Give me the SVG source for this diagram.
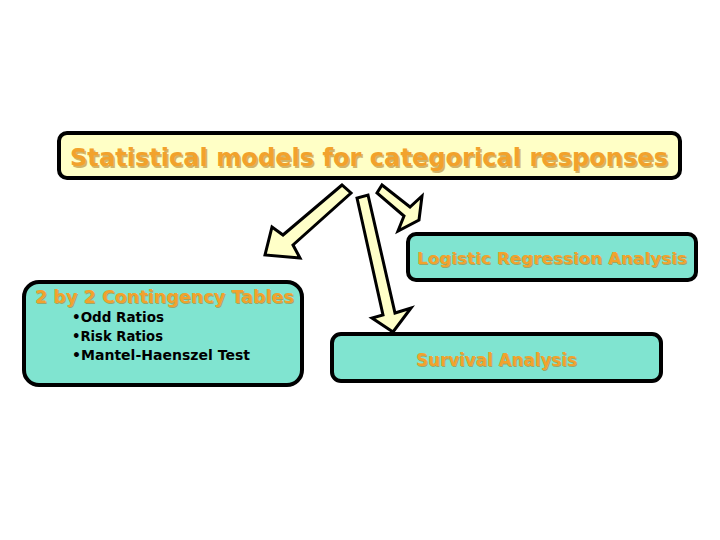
<svg xmlns="http://www.w3.org/2000/svg" width="720" height="540" viewBox="0 0 720 540">
<defs>
<style>
.box{stroke:#000;stroke-width:4}
.yel{fill:#ffffc6}
.tq{fill:#80e4d0}
.ttl{font-family:"DejaVu Sans","Liberation Sans",sans-serif;font-weight:bold;fill:#f2a22c}
.sh{fill:#b07818;opacity:0.55}
.bul{font-family:"DejaVu Sans","Liberation Sans",sans-serif;font-weight:bold;fill:#000;font-size:13.5px}
.arr{fill:#ffffc8;stroke:#000;stroke-width:3;stroke-linejoin:miter}
</style>
</defs>
<rect width="720" height="540" fill="#fff"/>
<g id="connectors">
<polygon class="arr" points="342,185 283,235 272,227 265,255 300,258 293,245 351,193"/>
<polygon class="arr" points="382,185 410,207 422,196 419,220 398,231 404,216 377,193"/>
<polygon class="arr" points="357,198 383,315 372,318 393,332 411,308 395,313 368,195"/>
</g>
<g id="root">
<rect class="box yel" x="59" y="133" width="621" height="45" rx="8"/>
<text class="ttl sh" x="71.5" y="167.5" font-size="24" textLength="598" lengthAdjust="spacingAndGlyphs">Statistical models for categorical responses</text>
<text class="ttl" x="70" y="166" font-size="24" textLength="598" lengthAdjust="spacingAndGlyphs">Statistical models for categorical responses</text>
</g>
<g id="logistic">
<rect class="box tq" x="408" y="234" width="288" height="46" rx="8"/>
<text class="ttl sh" x="418" y="265" font-size="16" textLength="270" lengthAdjust="spacingAndGlyphs">Logistic Regression Analysis</text>
<text class="ttl" x="417" y="264" font-size="16" textLength="270" lengthAdjust="spacingAndGlyphs">Logistic Regression Analysis</text>
</g>
<g id="contingency">
<rect class="box tq" x="24" y="282" width="278" height="103" rx="15"/>
<text class="ttl sh" x="36" y="304" font-size="17" textLength="259" lengthAdjust="spacingAndGlyphs">2 by 2 Contingency Tables</text>
<text class="ttl" x="35" y="303" font-size="17" textLength="259" lengthAdjust="spacingAndGlyphs">2 by 2 Contingency Tables</text>
<text class="bul" x="72" y="322" textLength="92" lengthAdjust="spacingAndGlyphs">•Odd Ratios</text>
<text class="bul" x="72" y="341" textLength="91" lengthAdjust="spacingAndGlyphs">•Risk Ratios</text>
<text class="bul" x="72" y="360" textLength="178" lengthAdjust="spacingAndGlyphs">•Mantel-Haenszel Test</text>
</g>
<g id="survival">
<rect class="box tq" x="332" y="334" width="329" height="47" rx="9"/>
<text class="ttl sh" x="417" y="367" font-size="18" textLength="161" lengthAdjust="spacingAndGlyphs">Survival Analysis</text>
<text class="ttl" x="416" y="366" font-size="18" textLength="161" lengthAdjust="spacingAndGlyphs">Survival Analysis</text>
</g>
</svg>
